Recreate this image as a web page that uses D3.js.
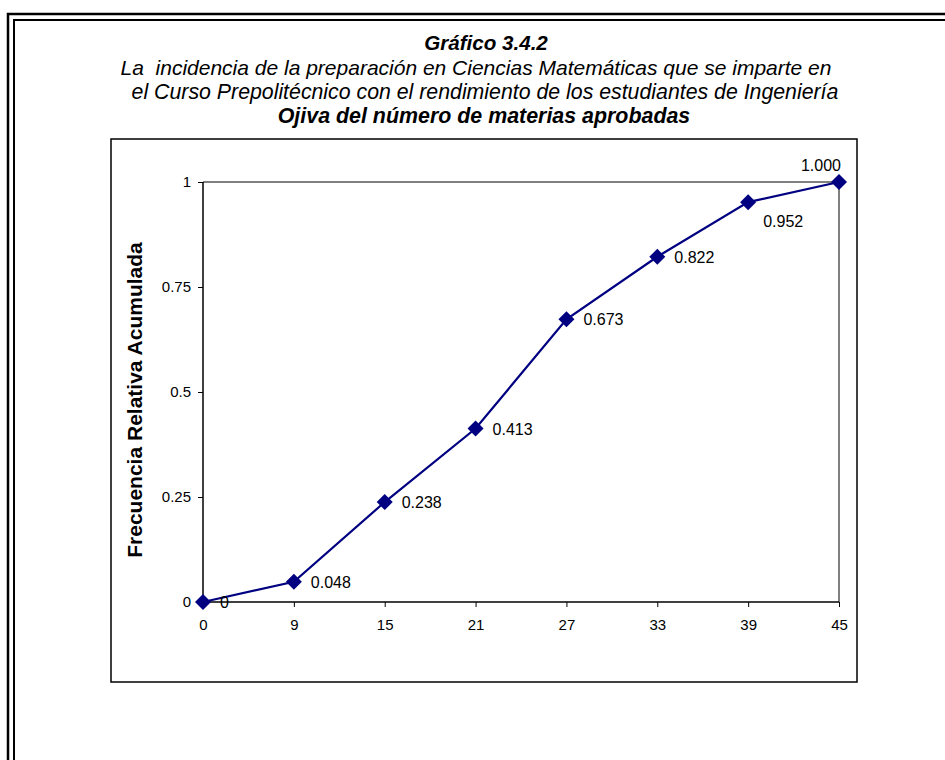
<!DOCTYPE html>
<html><head><meta charset="utf-8">
<script src="https://cdn.jsdelivr.net/npm/d3@7"></script>
<style>body{margin:0;background:#fff;}svg{display:block;}</style>
</head><body>
<svg id="c" width="945" height="760"></svg>
<script>
const categories = ["0","9","15","21","27","33","39","45"];
const values = [0, 0.048, 0.238, 0.413, 0.673, 0.822, 0.952, 1.000];
const labels = ["0","0.048","0.238","0.413","0.673","0.822","0.952","1.000"];
const yTicks = [0, 0.25, 0.5, 0.75, 1];
const yTickLabels = ["0","0.25","0.5","0.75","1"];
const titleLines = [
  "Gráfico 3.4.2",
  "La  incidencia de la preparación en Ciencias Matemáticas que se imparte en",
  "el Curso Prepolitécnico con el rendimiento de los estudiantes de Ingeniería",
  "Ojiva del número de materias aprobadas"
];
const yTitle = "Frecuencia Relativa Acumulada";

const svg = d3.select("#c");
const font = "Arial, 'Liberation Sans', sans-serif";

// double frame
svg.append("rect").attr("x",8).attr("y",14).attr("width",1000).attr("height",1000)
  .attr("fill","none").attr("stroke","#000").attr("stroke-width",2.5);
svg.append("rect").attr("x",14).attr("y",20).attr("width",1000).attr("height",1000)
  .attr("fill","none").attr("stroke","#000").attr("stroke-width",2);

// titles
const ty = [50, 75, 99, 123];
const tx = [486, 476, 485, 484];
const tsz = [20.6, 21, 21.3, 21.4];
titleLines.forEach((t,i)=>{
  svg.append("text").attr("x",tx[i]).attr("y",ty[i]).attr("text-anchor","middle")
    .attr("font-family",font).attr("font-size",tsz[i])
    .attr("font-style","italic").attr("font-weight",(i===0||i===3)?"bold":"normal")
    .attr("fill","#000").style("white-space","pre").text(t);
});

// chart box
svg.append("rect").attr("x",111).attr("y",139).attr("width",746).attr("height",543)
  .attr("fill","#fff").attr("stroke","#000").attr("stroke-width",1.5);

const x0 = 203, x1 = 839, yTop = 182, yBot = 602;
const x = d3.scalePoint().domain(categories).range([x0,x1]);
const y = d3.scaleLinear().domain([0,1]).range([yBot,yTop]);

// plot area border (gray)
svg.append("path").attr("d",`M${x0},${yTop}H${x1}V${yBot}`)
  .attr("fill","none").attr("stroke","#808080").attr("stroke-width",2);

// axes
const yAxis = d3.axisLeft(y).tickValues(yTicks).tickSize(5).tickPadding(7)
  .tickFormat((d,i)=>yTickLabels[i]);
const gy = svg.append("g").attr("transform",`translate(${x0},0)`).call(yAxis);
const xAxis = d3.axisBottom(x).tickSize(5).tickPadding(12);
const gx = svg.append("g").attr("transform",`translate(0,${yBot})`).call(xAxis);
[gx,gy].forEach(g=>{
  g.attr("font-size",null).attr("font-family",null);
  g.select(".domain").attr("stroke","#000").attr("stroke-width",1.5);
  g.selectAll(".tick line").attr("stroke","#000").attr("stroke-width",1);
  g.selectAll(".tick text").attr("font-family",font).attr("font-size",15).attr("fill","#000");
});
gx.select(".domain").attr("d",`M${x0},0H${x1}`);
gy.select(".domain").attr("d",`M0,${yBot}V${yTop}`);

// line
const line = d3.line().x((d,i)=>x(categories[i])).y(d=>y(d));
svg.append("path").datum(values).attr("d",line).attr("fill","none")
  .attr("stroke","#000080").attr("stroke-width",2.2);

// markers
svg.selectAll(".m").data(values).enter().append("path")
  .attr("transform",(d,i)=>`translate(${x(categories[i])},${y(d)})`)
  .attr("d","M0,-8L8,0L0,8L-8,0Z").attr("fill","#000080");

// data labels
const n = values.length;
svg.selectAll(".lbl").data(values).enter().append("text")
  .attr("font-family",font).attr("font-size",16).attr("fill","#000")
  .attr("x",(d,i)=>{
    const px = x(categories[i]);
    if(i===n-1) return px+2;
    if(i===n-2) return px+15;
    return px+17;
  })
  .attr("y",(d,i)=>{
    const py = y(d);
    if(i===n-1) return py-11;
    if(i===n-2) return py+25;
    return py+6;
  })
  .attr("text-anchor",(d,i)=> i===n-1 ? "end" : "start")
  .text((d,i)=>labels[i]);

// y title
svg.append("text").attr("transform","translate(142,400) rotate(-90)")
  .attr("text-anchor","middle").attr("font-family",font).attr("font-size",21)
  .attr("font-weight","bold").attr("fill","#000").text(yTitle);
</script>
</body></html>
